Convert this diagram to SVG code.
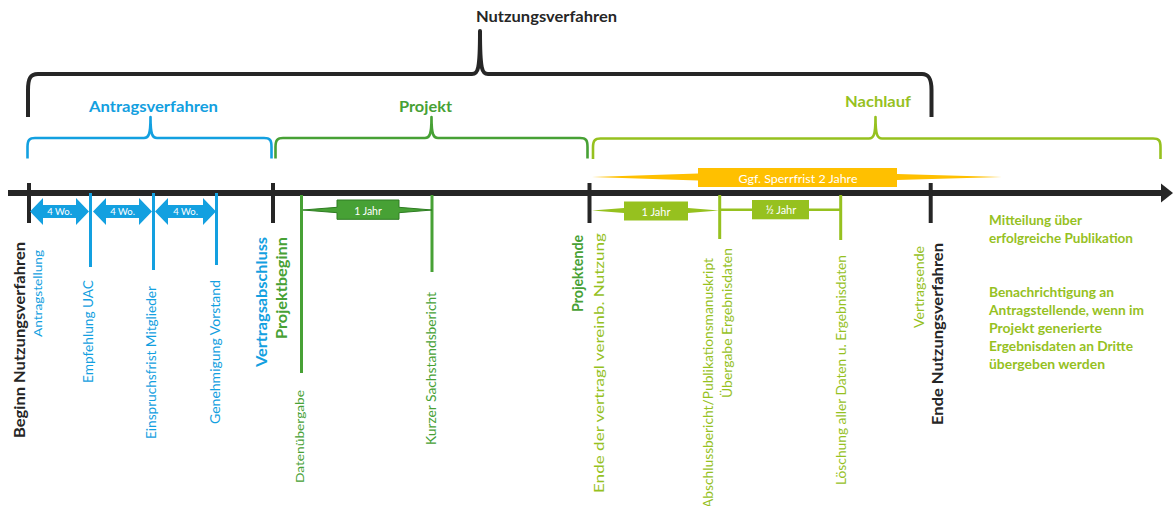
<svg xmlns="http://www.w3.org/2000/svg" width="1173" height="506" viewBox="0 0 1173 506">
<defs>
<style>
text{font-family:Lato,"Liberation Sans",sans-serif}
.b{font-weight:bold}
.dk{fill:#262626}.bl{fill:#13A0E0}.gr{fill:#47A135}.lg{fill:#96C11F}.wh{fill:#ffffff}
.brace{fill:none;stroke-linejoin:round;stroke-linecap:butt}
.tick{stroke:#262626;stroke-width:4}
.lb{stroke:#13A0E0;stroke-width:3}
.lgr{stroke:#47A135;stroke-width:3}
.llg{stroke:#96C11F;stroke-width:3}
</style>
</defs>
<rect width="1173" height="506" fill="#ffffff"/>

<g id="brace-nutzungsverfahren">
<path class="brace" stroke="#262626" stroke-width="4" d="M28,117 L28,90 C28,79 30,74 38,74 L472,74 C478,74 480,70 480,31 C480,70 482,74 488,74 L922,74 C929,74 931.5,79 931.5,90 L931.5,117"/>
<text class="b dk" x="476" y="22" font-size="15" textLength="141" lengthAdjust="spacingAndGlyphs">Nutzungsverfahren</text>
</g>
<g id="brace-antragsverfahren">
<path class="brace" stroke="#13A0E0" stroke-width="2.6" d="M27.5,158.5 L27.5,147 C27.5,140 29.5,138 35,138 L144,138 C148.5,138 150.5,135 150.5,117 C150.5,135 152.5,138 157,138 L264,138 C270,138 271.5,140 271.5,147 L271.5,158.5"/>
<text class="b bl" x="89" y="112" font-size="15" textLength="129" lengthAdjust="spacingAndGlyphs">Antragsverfahren</text>
</g>
<g id="brace-projekt">
<path class="brace" stroke="#47A135" stroke-width="2.6" d="M275.5,158.5 L275.5,147 C275.5,140 277.5,138 283,138 L425,138 C429.5,138 431.5,135 431.5,117 C431.5,135 433.5,138 438,138 L580,138 C586,138 587.5,140 587.5,147 L587.5,158.5"/>
<text class="b gr" x="399" y="112" font-size="15" textLength="53" lengthAdjust="spacingAndGlyphs">Projekt</text>
</g>
<g id="brace-nachlauf">
<path class="brace" stroke="#96C11F" stroke-width="2.6" d="M593,159 L593,147.5 C593,140.5 595,138.5 600.5,138.5 L869,138.5 C873.5,138.5 875.5,135.5 875.5,117 C875.5,135.5 877.5,138.5 882,138.5 L1153,138.5 C1159,138.5 1160.5,140.5 1160.5,147.5 L1160.5,159"/>
<text class="b lg" x="845" y="107" font-size="15" textLength="66" lengthAdjust="spacingAndGlyphs">Nachlauf</text>
</g>

<g id="sperrfrist">
<polygon fill="#FFC000" points="592,177 698,173.5 698,168 897,168 897,174 1002,177 897,180 897,187 698,187 698,180.5"/>
<text class="wh" x="798" y="182.5" font-size="11.5" text-anchor="middle" textLength="119" lengthAdjust="spacingAndGlyphs">Ggf. Sperrfrist 2 Jahre</text>
</g>

<g id="connectors">
<line x1="8" y1="193" x2="1163" y2="193" stroke="#262626" stroke-width="6"/>
<polygon fill="#262626" points="1161,183.5 1173,193 1161,202.5"/>
</g>

<g id="beginn">
<line class="tick" x1="29" y1="183" x2="29" y2="223"/>
<text class="b dk" transform="translate(24.5,438) rotate(-90)" font-size="15" textLength="196" lengthAdjust="spacingAndGlyphs">Beginn Nutzungsverfahren</text>
</g>
<g id="antragstellung">
<text class="bl" transform="translate(42,337) rotate(-90)" font-size="12" textLength="87" lengthAdjust="spacingAndGlyphs">Antragstellung</text>
</g>
<g id="empfehlung">
<line class="lb" x1="90.5" y1="193" x2="90.5" y2="267"/>
<text class="bl" transform="translate(93,383) rotate(-90)" font-size="13" textLength="103" lengthAdjust="spacingAndGlyphs">Empfehlung UAC</text>
</g>
<g id="einspruch">
<line class="lb" x1="153.5" y1="193" x2="153.5" y2="270"/>
<text class="bl" transform="translate(156,439) rotate(-90)" font-size="12.5" textLength="153" lengthAdjust="spacingAndGlyphs">Einspruchsfrist Mitglieder</text>
</g>
<g id="genehmigung">
<line class="lb" x1="216.5" y1="193" x2="216.5" y2="265"/>
<text class="bl" transform="translate(220,424) rotate(-90)" font-size="13" textLength="144" lengthAdjust="spacingAndGlyphs">Genehmigung Vorstand</text>
</g>
<g id="wo1">
<polygon fill="#13A0E0" points="30,211.5 43,198 43,205 76,205 76,198 89,211.5 76,225 76,218 43,218 43,225"/>
<text class="wh" x="59.5" y="214.5" font-size="9.5" text-anchor="middle">4 Wo.</text>
</g>
<g id="wo2">
<polygon fill="#13A0E0" points="93,211.5 106,198 106,205 139,205 139,198 152,211.5 139,225 139,218 106,218 106,225"/>
<text class="wh" x="122.5" y="214.5" font-size="9.5" text-anchor="middle">4 Wo.</text>
</g>
<g id="wo3">
<polygon fill="#13A0E0" points="155,211.5 168,198 168,205 203,205 203,198 216,211.5 203,225 203,218 168,218 168,225"/>
<text class="wh" x="185.5" y="214.5" font-size="9.5" text-anchor="middle">4 Wo.</text>
</g>

<g id="vertragsabschluss">
<line class="tick" x1="273" y1="183" x2="273" y2="223"/>
<text class="b bl" transform="translate(267,367) rotate(-90)" font-size="15" textLength="130" lengthAdjust="spacingAndGlyphs">Vertragsabschluss</text>
<text class="b gr" transform="translate(287,339) rotate(-90)" font-size="15" textLength="102" lengthAdjust="spacingAndGlyphs">Projektbeginn</text>
</g>
<g id="datenuebergabe">
<line class="lgr" x1="301.5" y1="195" x2="301.5" y2="373"/>
<text class="gr" transform="translate(304,483) rotate(-90)" font-size="12" textLength="93" lengthAdjust="spacingAndGlyphs">Datenübergabe</text>
</g>
<g id="sachstand">
<line class="lgr" x1="432" y1="195" x2="432" y2="272"/>
<text class="gr" transform="translate(435.5,445) rotate(-90)" font-size="12.5" textLength="153" lengthAdjust="spacingAndGlyphs">Kurzer Sachstandsbericht</text>
</g>
<g id="jahr-projekt">
<polygon fill="#47A135" stroke="#2E7D22" stroke-width="1" points="303,210 337,207.3 337,200 399,200 399,207.3 432,210 399,212.7 399,219.3 337,219.3 337,212.7"/>
<text class="wh" x="368" y="214.5" font-size="10.5" text-anchor="middle">1 Jahr</text>
</g>

<g id="projektende">
<line class="tick" x1="589.5" y1="183" x2="589.5" y2="223"/>
<text class="b gr" transform="translate(583,312) rotate(-90)" font-size="15" textLength="77" lengthAdjust="spacingAndGlyphs">Projektende</text>
<text class="lg" transform="translate(603.5,493) rotate(-90)" font-size="14" textLength="260" lengthAdjust="spacingAndGlyphs">Ende der vertragl vereinb. Nutzung</text>
</g>
<g id="jahr-nachlauf">
<polygon fill="#96C11F" points="592,210.5 624,208 624,201.5 688,201.5 688,208 719,210.5 688,213 688,220.5 624,220.5 624,213"/>
<text class="wh" x="656" y="215.5" font-size="11" text-anchor="middle">1 Jahr</text>
</g>
<g id="abschlussbericht">
<line class="llg" x1="719.7" y1="195" x2="719.7" y2="239"/>
<text class="lg" transform="translate(713,508) rotate(-90)" font-size="12.5" textLength="250" lengthAdjust="spacingAndGlyphs">Abschlussbericht/Publikationsmanuskript</text>
<text class="lg" transform="translate(732,398) rotate(-90)" font-size="12.5" textLength="150" lengthAdjust="spacingAndGlyphs">Übergabe Ergebnisdaten</text>
</g>
<g id="halbjahr">
<line x1="719" y1="209.7" x2="841" y2="209.7" stroke="#96C11F" stroke-width="2.5"/>
<rect x="752" y="200" width="57" height="19.3" fill="#96C11F"/>
<text class="wh" x="781" y="214" font-size="11" text-anchor="middle">½ Jahr</text>
</g>
<g id="loeschung">
<line class="llg" x1="840.7" y1="195" x2="840.7" y2="240"/>
<text class="lg" transform="translate(845.5,485) rotate(-90)" font-size="12.5" textLength="230" lengthAdjust="spacingAndGlyphs">Löschung aller Daten u. Ergebnisdaten</text>
</g>
<g id="ende">
<line class="tick" x1="930.7" y1="183" x2="930.7" y2="223"/>
<text class="lg" transform="translate(923.5,328) rotate(-90)" font-size="12.5" textLength="82" lengthAdjust="spacingAndGlyphs">Vertragsende</text>
<text class="b dk" transform="translate(943,425) rotate(-90)" font-size="15" textLength="182" lengthAdjust="spacingAndGlyphs">Ende Nutzungsverfahren</text>
</g>

<g id="mitteilung">
<text class="b lg" font-size="13"><tspan x="989" y="225" textLength="93" lengthAdjust="spacingAndGlyphs">Mitteilung über</tspan><tspan x="989" y="243" textLength="144" lengthAdjust="spacingAndGlyphs">erfolgreiche Publikation</tspan></text>
</g>
<g id="benachrichtigung">
<text class="b lg" font-size="13"><tspan x="989" y="297" textLength="125" lengthAdjust="spacingAndGlyphs">Benachrichtigung an</tspan><tspan x="989" y="315" textLength="155" lengthAdjust="spacingAndGlyphs">Antragstellende, wenn im</tspan><tspan x="989" y="333" textLength="113" lengthAdjust="spacingAndGlyphs">Projekt generierte</tspan><tspan x="989" y="351" textLength="144" lengthAdjust="spacingAndGlyphs">Ergebnisdaten an Dritte</tspan><tspan x="989" y="369" textLength="116" lengthAdjust="spacingAndGlyphs">übergeben werden</tspan></text>
</g>
</svg>
